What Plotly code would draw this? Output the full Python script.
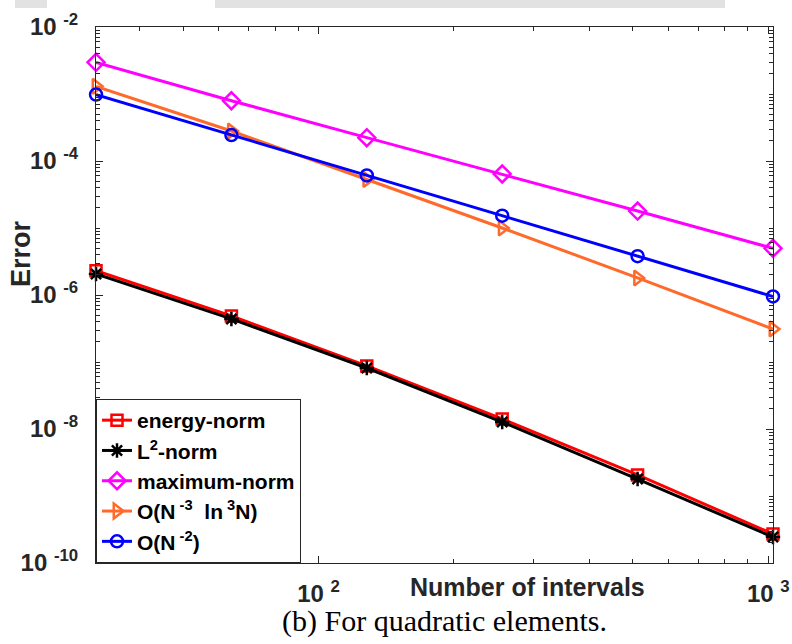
import plotly.graph_objects as go
import numpy as np

# ---- data ----
N = [32, 64, 128, 256, 512, 1024]
energy_norm = [2.31e-6, 4.86e-7, 8.71e-8, 1.41e-8, 2.06e-9, 2.71e-10]
l2_norm = [2.06e-6, 4.39e-7, 8.13e-8, 1.27e-8, 1.79e-9, 2.44e-10]
max_norm = [2.97e-3, 7.94e-4, 2.23e-4, 6.40e-5, 1.79e-5, 4.98e-6]
rate_ln = [1.30e-3, 2.80e-4, 5.30e-5, 1.00e-5, 1.80e-6, 3.10e-7]
rate_n2 = [9.80e-4, 2.44e-4, 6.10e-5, 1.53e-5, 3.80e-6, 9.50e-7]

names = ["energy-norm", "L<sup>2</sup>-norm", "maximum-norm",
         "O(N<sup> -3</sup>  ln<sup> 3</sup>N)", "O(N<sup> -2</sup>)"]

x_tickvals = [100, 1000]
x_ticktext = ["10 <sup>2</sup>", "10 <sup>3</sup>"]
y_tickvals = [1e-10, 1e-8, 1e-6, 1e-4, 1e-2]
y_ticktext = ["10 <sup>-10</sup>", "10 <sup>-8</sup>", "10 <sup>-6</sup>",
              "10 <sup>-4</sup>", "10 <sup>-2</sup>"]

x_minor = [k * 10 for k in range(4, 10)] + [k * 100 for k in range(2, 10)]
y_minor = [k * 10.0 ** e for e in range(-10, -2) for k in range(1, 10)
           if not (k == 1 and e % 2 == 0)]

series = [energy_norm, l2_norm, max_norm, rate_ln, rate_n2]
colors = ["#ff0000", "#000000", "#ff00ff", "#ff6a2a", "#0000ff"]
symbols = ["square-open", "asterisk-open", "diamond-open", "triangle-right-open", "circle-open"]
sizes = [11, 12, 13, 13, 12]

fig = go.Figure()
for y, name, c, s, sz in zip(series, names, colors, symbols, sizes):
    fig.add_trace(go.Scatter(
        x=N, y=y, name=name, mode="lines+markers",
        line=dict(color=c, width=3),
        marker=dict(symbol=s, size=sz, color=c, line=dict(color=c, width=2.5)),
        cliponaxis=False,
    ))

axcol = "#262626"
W, H = 792, 644
L, R, T, B = 96, 773, 27, 563

def px(xp):
    return (xp - L) / (R - L)

def py(yp):
    return (B - yp) / (B - T)

fig.update_layout(
    width=W, height=H, autosize=False,
    margin=dict(l=L, r=W - R, t=T, b=H - B, pad=0, autoexpand=False),
    paper_bgcolor="white", plot_bgcolor="white",
    font=dict(family="Liberation Sans, Arial, sans-serif", color=axcol),
    showlegend=True,
    legend=dict(
        x=0, y=0, xanchor="left", yanchor="bottom",
        bgcolor="white", bordercolor=axcol, borderwidth=1,
        font=dict(size=21, color="black", weight="bold",
                  family="Liberation Sans, Arial, sans-serif"),
        tracegroupgap=0, itemwidth=30,
    ),
    xaxis=dict(
        type="log", range=[1.50510, 3.01035], automargin=False,
        tickmode="array", tickvals=x_tickvals, ticktext=x_ticktext,
        ticks="inside", ticklen=7, tickwidth=1, tickcolor=axcol,
        showline=True, linecolor=axcol, linewidth=1, mirror="allticks",
        showgrid=False, zeroline=False,
        tickfont=dict(size=24, weight="bold", color=axcol),
        ticklabelstandoff=9,
        minor=dict(tickmode="array", tickvals=x_minor, ticks="inside",
                   ticklen=4, tickcolor=axcol, showgrid=False),
    ),
    yaxis=dict(
        type="log", range=[-10, -2], automargin=False,
        tickmode="array", tickvals=y_tickvals, ticktext=y_ticktext,
        ticks="inside", ticklen=7, tickwidth=1, tickcolor=axcol,
        showline=True, linecolor=axcol, linewidth=1, mirror="allticks",
        showgrid=False, zeroline=False,
        tickfont=dict(size=24, weight="bold", color=axcol),
        ticklabelstandoff=12,
        minor=dict(tickmode="array", tickvals=y_minor, ticks="inside",
                   ticklen=4, tickcolor=axcol, showgrid=False),
    ),
    annotations=[
        dict(text="Number of intervals", xref="paper", yref="paper",
             x=px(527), y=py(587), xanchor="center", yanchor="middle",
             showarrow=False,
             font=dict(size=25, weight="bold", color=axcol)),
        dict(text="Error", xref="paper", yref="paper",
             x=px(21), y=py(254), xanchor="center", yanchor="middle",
             textangle=-90, showarrow=False,
             font=dict(size=27, weight="bold", color=axcol)),
        dict(text="(b) For quadratic elements.", xref="paper", yref="paper",
             x=px(444), y=py(621), xanchor="center", yanchor="middle",
             showarrow=False,
             font=dict(size=30, color="black",
                       family="Liberation Serif, Times New Roman, serif")),
    ],
    shapes=[
        dict(type="rect", xref="paper", yref="paper", layer="below",
             x0=px(15), x1=px(47), y0=py(8), y1=py(0),
             fillcolor="#e2e2e2", line=dict(width=0)),
        dict(type="rect", xref="paper", yref="paper", layer="below",
             x0=px(215), x1=px(725), y0=py(8), y1=py(0),
             fillcolor="#e2e2e2", line=dict(width=0)),
    ],
)

fig.write_html("out.html")
